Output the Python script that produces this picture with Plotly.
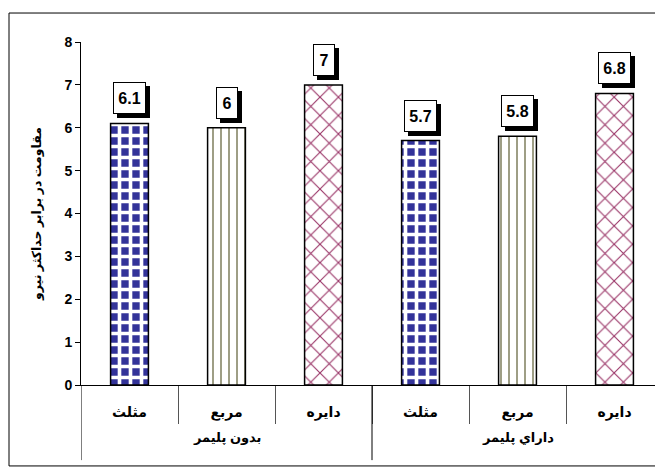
import plotly.graph_objects as go

groups = ["بدون پليمر", "داراي پليمر"]
group_members = [[0, 1, 2], [3, 4, 5]]
shapes_cat = ["مثلث", "مربع", "دايره", "مثلث", "مربع", "دايره"]
values = [6.1, 6, 7, 5.7, 5.8, 6.8]
value_labels = ["6.1", "6", "7", "5.7", "5.8", "6.8"]
y_title = "مقاومت در برابر حداکثر نيرو"
y_ticks = [0, 1, 2, 3, 4, 5, 6, 7, 8]

FONT = "Arial, 'Liberation Sans', 'DejaVu Sans', sans-serif"

pattern_styles = {
    "مثلث": dict(shape="+", bgcolor="#333399", fgcolor="#ffffff", size=11, solidity=0.55, fillmode="replace"),
    "مربع": dict(shape="|", bgcolor="#ffffff", fgcolor="#333300", size=8, solidity=0.2, fgopacity=0.6, fillmode="replace"),
    "دايره": dict(shape="x", bgcolor="#ffffff", fgcolor="#993366", size=13, solidity=0.16, fillmode="replace"),
}

idx = list(range(len(values)))

fig = go.Figure()
for i, c, v in zip(idx, shapes_cat, values):
    fig.add_trace(go.Bar(
        x=[i], y=[v], width=0.39,
        marker=dict(color="#ffffff", line=dict(color="#000000", width=1.5),
                    pattern=pattern_styles[c]),
        showlegend=False, hoverinfo="y",
    ))

annotations = []
for i, v, t in zip(idx, values, value_labels):
    w = 23 if len(t) > 1 else 12
    common = dict(x=i, y=v, xref="x", yref="y", showarrow=False, yanchor="bottom",
                  width=w, height=22, borderwidth=1, borderpad=4, bordercolor="#000000",
                  font=dict(family=FONT, size=16, color="#000000"))
    annotations.append(dict(common, text="&nbsp;", bgcolor="#000000", xshift=4, yshift=5))
    annotations.append(dict(common, text="<b>%s</b>" % t, bgcolor="#ffffff", xshift=0, yshift=9))

for g, members in zip(groups, group_members):
    annotations.append(dict(x=sum(members) / len(members), y=-0.152, xref="x", yref="paper",
                            showarrow=False, yanchor="middle", text="<b>%s</b>" % g,
                            font=dict(family=FONT, size=13, color="#000000")))

shapes = [dict(type="rect", xref="paper", yref="paper",
               x0=-0.1237, x1=1.02, y0=-0.236, y1=1.0845,
               line=dict(color="#000000", width=1), fillcolor="rgba(0,0,0,0)", layer="below")]
group_edges = [members[0] - 0.5 for members in group_members] + [group_members[-1][-1] + 0.5]
for xe in group_edges:
    shapes.append(dict(type="line", xref="x", yref="paper", x0=xe, x1=xe, y0=0, y1=-0.219,
                       line=dict(color="#000000", width=1)))

# the page body adds an 8px offset; margins compensate so the plot lands where the reference has it
fig.update_layout(
    width=663, height=470,
    margin=dict(l=73, r=8, t=34, b=93),
    paper_bgcolor="#ffffff", plot_bgcolor="#ffffff",
    barmode="overlay",
    font=dict(family=FONT, color="#000000"),
    annotations=annotations,
    shapes=shapes,
)
fig.update_xaxes(
    range=[-0.5, len(values) - 0.5], automargin=False,
    tickvals=idx, ticktext=["<b>%s</b>" % s for s in shapes_cat],
    showline=True, linecolor="#000000", linewidth=1,
    ticks="outside", ticklen=14, tickcolor="#ffffff", tickwidth=1,
    minor=dict(tickvals=[i + 0.5 for i in idx[:-1]], ticks="outside", ticklen=38,
               tickcolor="#555555", tickwidth=1, showgrid=False),
    tickfont=dict(family=FONT, size=14, color="#000000"),
    showgrid=False, zeroline=False,
)
fig.update_yaxes(
    range=[0, 8], tickvals=y_ticks, automargin=False,
    ticktext=["<b>%d</b>" % t for t in y_ticks],
    showline=True, linecolor="#000000", linewidth=1,
    ticks="outside", ticklen=5, tickcolor="#000000",
    tickfont=dict(family=FONT, size=14, color="#000000"),
    showgrid=False, zeroline=False,
    title=dict(text="<b>%s</b>" % y_title, font=dict(family=FONT, size=12.5, color="#000000"), standoff=20),
)

fig.write_html("out.html")
